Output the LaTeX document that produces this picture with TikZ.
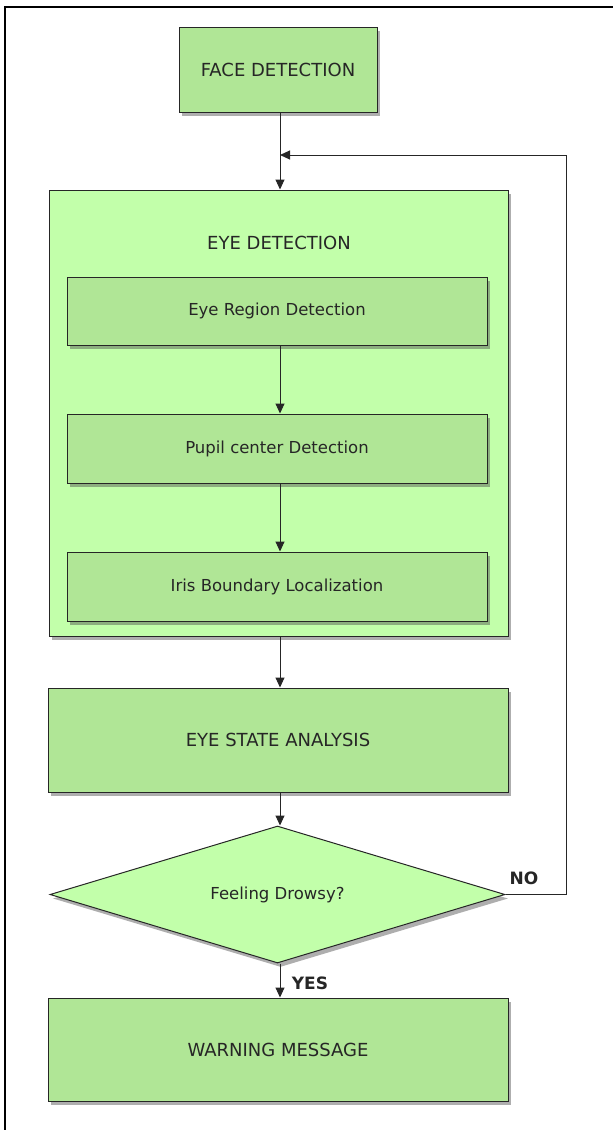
\documentclass[tikz,border=0pt]{standalone}
\usepackage{fontspec}
\setmainfont{DejaVu Sans}
\usetikzlibrary{shapes.geometric,shadows,arrows.meta}
\definecolor{gdark}{HTML}{B0E696}
\definecolor{glight}{HTML}{C2FFAA}
\tikzset{
  boxbase/.style={draw=black!85, line width=1pt, rectangle, inner sep=0pt,
    drop shadow={shadow xshift=3pt, shadow yshift=-4pt, opacity=0.45, fill=black!70}},
  darkbox/.style={boxbase, fill=gdark},
  lightbox/.style={boxbase, fill=glight},
  txt/.style={font=\fontsize{16.5}{19}\selectfont, text=black!85},
  captxt/.style={font=\fontsize{18}{21}\selectfont, text=black!85},
  arr/.style={draw=black!85, line width=1pt, -{Triangle[length=10pt,width=9pt]}},
  tag/.style={font=\bfseries\fontsize{17}{20}\selectfont, text=black!85}
}
\begin{document}
\begin{tikzpicture}[x=1pt,y=-1pt]
\useasboundingbox (0,0) rectangle (613,1130);
\draw[line width=1.6pt] (5,1135) -- (5,7) -- (620,7);
\node[darkbox, minimum width=198pt, minimum height=85pt, captxt] (face) at (278,69.5) {FACE DETECTION};
\node[lightbox, minimum width=459pt, minimum height=446pt] (eye) at (278.5,413) {};
\node[captxt] (eyelbl) at (279,243) {EYE DETECTION};
\node[darkbox, minimum width=420pt, minimum height=68pt, txt] (erd) at (277,311) {Eye Region Detection};
\node[darkbox, minimum width=420pt, minimum height=69pt, txt] (pcd) at (277,448.5) {Pupil center Detection};
\node[darkbox, minimum width=420pt, minimum height=69pt, txt] (ibl) at (277,586.5) {Iris Boundary Localization};
\node[darkbox, minimum width=460pt, minimum height=104pt, captxt] (esa) at (278,740) {EYE STATE ANALYSIS};
\node[diamond, aspect=3.32, draw=black!85, line width=1pt, fill=glight, inner sep=0pt,
  minimum width=455pt, minimum height=137pt, txt,
  drop shadow={shadow xshift=3pt, shadow yshift=-4pt, opacity=0.45, fill=black!70}] (dia) at (277.5,894.5) {Feeling Drowsy?};
\node[darkbox, minimum width=460pt, minimum height=103pt, captxt] (warn) at (278,1049.5) {WARNING MESSAGE};
\coordinate (fb) at (280,155);
\coordinate (fbr) at (566,155);
\draw[arr] (face.south -| fb) -- (eye.north -| fb);
\draw[arr] (erd.south -| fb) -- (pcd.north -| fb);
\draw[arr] (pcd.south -| fb) -- (ibl.north -| fb);
\draw[arr] (eye.south -| fb) -- (esa.north -| fb);
\draw[arr] (esa.south -| fb) -- (dia.north -| fb);
\draw[arr] (dia.south -| fb) -- (warn.north -| fb);
\draw[arr] (dia.east) -- (dia.east -| fbr) -- (fbr) -- (fb);
\node[tag] (no) at (524,878) {NO};
\node[tag] (yes) at (310,983) {YES};
\end{tikzpicture}
\end{document}
